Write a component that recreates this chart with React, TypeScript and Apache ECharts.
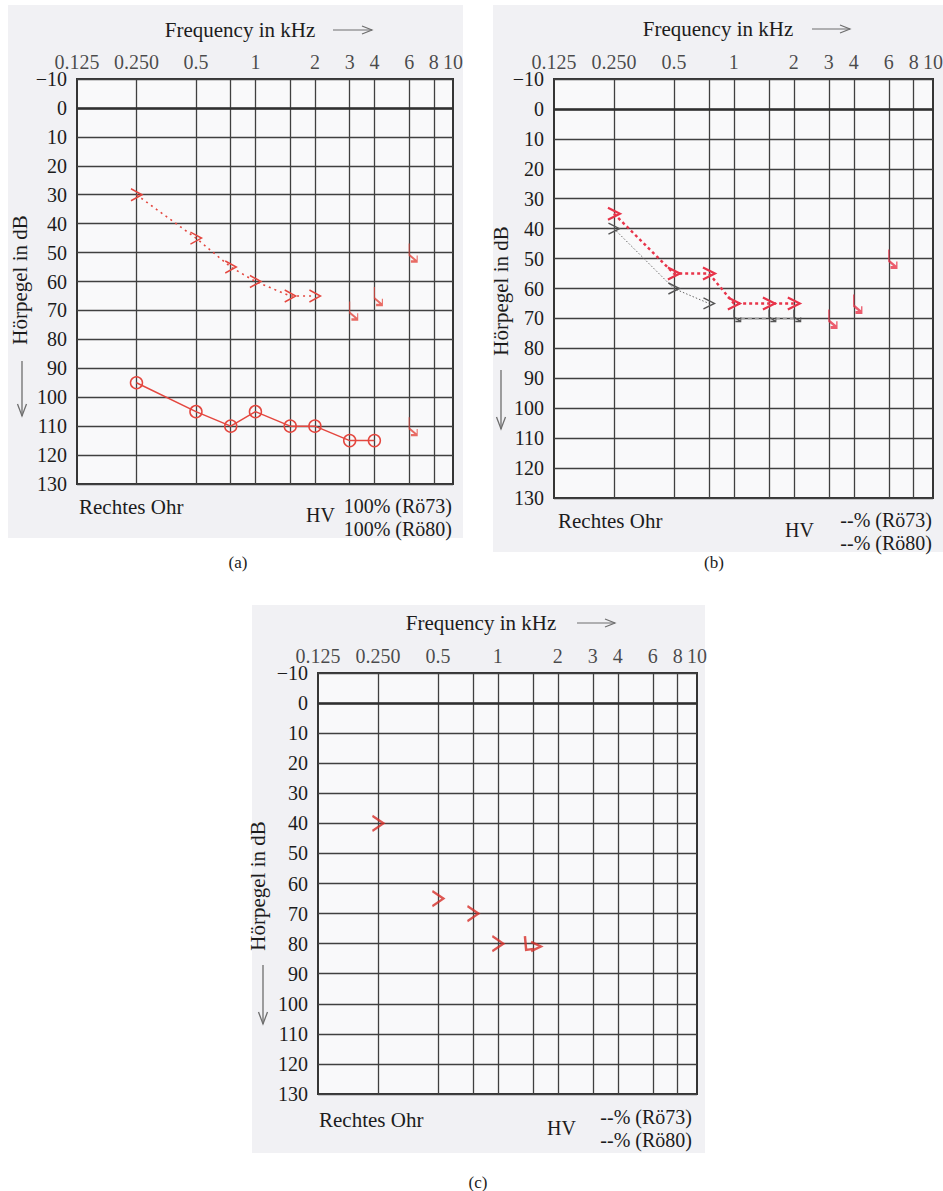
import React, { useEffect, useRef } from 'react';
import * as echarts from 'echarts';

// ---------- axis data ----------
const tickFreqs = [0.125, 0.25, 0.5, 1, 2, 3, 4, 6, 8, 10];
const tickLabels = ['0.125', '0.250', '0.5', '1', '2', '3', '4', '6', '8', '10'];
const gridFreqs = [0.25, 0.5, 0.75, 1, 1.5, 2, 3, 4, 6, 8];

// ---------- panel (a) ----------
const aAirFreq = [0.25, 0.5, 0.75, 1, 1.5, 2, 3, 4];
const aAirDb = [95, 105, 110, 105, 110, 110, 115, 115];
const aBoneFreq = [0.25, 0.5, 0.75, 1, 1.5, 2];
const aBoneDb = [30, 45, 55, 60, 65, 65];
const aBoneNrFreq = [3, 4, 6];
const aBoneNrDb = [70, 65, 50];
const aAirNrFreq = [6];
const aAirNrDb = [110];

// ---------- panel (b) ----------
const bRedFreq = [0.25, 0.5, 0.75, 1, 1.5, 2];
const bRedDb = [35, 55, 55, 65, 65, 65];
const bRedNrFreq = [3, 4, 6];
const bRedNrDb = [70, 65, 50];
const bGreyFreq = [0.25, 0.5, 0.75];
const bGreyDb = [40, 60, 65];
const bGreyNrFreq = [1, 1.5, 2];
const bGreyNrDb = [70, 70, 70];

// ---------- panel (c) ----------
const cBoneFreq = [0.25, 0.5, 0.75, 1];
const cBoneDb = [40, 65, 70, 80];
const cBoneNrFreq = [1.5];
const cBoneNrDb = [80];

// ---------- texts ----------
const titleText = 'Frequency in kHz';
const yNameText = 'Hörpegel in dB';
const earText = 'Rechtes Ohr';
const hvText = 'HV';
const pctA = ['100% (Rö73)', '100% (Rö80)'];
const pctB = ['--% (Rö73)', '--% (Rö80)'];
const pctC = ['--% (Rö73)', '--% (Rö80)'];
const captions = ['(a)', '(b)', '(c)'];

const FONT = 'Liberation Serif, DejaVu Serif, serif';
const TXT = '#1c1c1c';
const GRID = '#404040';
const RED_A = '#e4473f';
const RED_B = '#e8344a';
const RED_C = '#d62e28';
const GREY_B = '#555555';
const NONE = 'rgba(0,0,0,0)';

const CHEVRON = 'path://M0,0 L10,6 L0,12';
const NR = 'path://M1,0 L1,10 L8,16 M8,10.5 L8,16 L2.5,16';
const NR_C = 'path://M0,0 L1,12 L7,11 M5,5 L13,9 L5,13';

const pts = (f: number[], d: number[]) => f.map((x, i) => [x, d[i]]);

const LAYOUT = [
  {
    grid: { left: 77, top: 79, width: 376, height: 405 },
    bg: [8, 5, 455, 533], title: [240, 30], arrow: [333, 372, 30],
    yname: [20, 280], yarrow: [22, 361, 416], ear: [79, 507], hv: [306, 515],
    p1: [452, 506], p2: [452, 529], cap: [238, 562], pct: pctA,
  },
  {
    grid: { left: 554, top: 79, width: 379, height: 419 },
    bg: [493, 5, 450, 547], title: [718, 29], arrow: [812, 850, 29],
    yname: [501, 291], yarrow: [501, 370, 429], ear: [558, 521], hv: [785, 530],
    p1: [932, 520], p2: [932, 543], cap: [714, 562], pct: pctB,
  },
  {
    grid: { left: 318, top: 673, width: 379, height: 421 },
    bg: [252, 605, 453, 548], title: [481, 623], arrow: [577, 615, 623],
    yname: [258, 886], yarrow: [263, 965, 1024], ear: [319, 1120], hv: [547, 1128],
    p1: [692, 1117], p2: [692, 1140], cap: [478, 1182], pct: pctC,
  },
];

function txt(x: number, y: number, text: string, size: number, align: string, extra: any = {}) {
  return {
    type: 'text', x, y, z: 20, silent: true, ...extra,
    style: { text, fontSize: size, fontFamily: FONT, fill: TXT, align, verticalAlign: 'middle' },
  };
}

function buildOption() {
  const graphics: any[] = [];
  LAYOUT.forEach((L, i) => {
    graphics.push({
      type: 'rect', z: -10, silent: true,
      shape: { x: L.bg[0], y: L.bg[1], width: L.bg[2], height: L.bg[3] },
      style: { fill: '#f1f1f4' },
    });
    graphics.push(txt(L.title[0], L.title[1], titleText, 21, 'center'));
    const [ax0, ax1, ay] = L.arrow;
    graphics.push({ type: 'polyline', z: 20, silent: true, shape: { points: [[ax0, ay], [ax1, ay]] }, style: { stroke: '#6e6e6e', lineWidth: 1.2, fill: 'none' } });
    graphics.push({ type: 'polyline', z: 20, silent: true, shape: { points: [[ax1 - 10, ay - 4], [ax1, ay], [ax1 - 10, ay + 4]] }, style: { stroke: '#6e6e6e', lineWidth: 1.2, fill: 'none' } });
    graphics.push(txt(L.yname[0], L.yname[1], yNameText, 21, 'center', { rotation: Math.PI / 2 }));
    const [vx, vy0, vy1] = L.yarrow;
    graphics.push({ type: 'polyline', z: 20, silent: true, shape: { points: [[vx, vy0], [vx, vy1]] }, style: { stroke: '#6e6e6e', lineWidth: 1.3, fill: 'none' } });
    graphics.push({ type: 'polyline', z: 20, silent: true, shape: { points: [[vx - 4.5, vy1 - 12], [vx, vy1], [vx + 4.5, vy1 - 12]] }, style: { stroke: '#6e6e6e', lineWidth: 1.3, fill: 'none' } });
    graphics.push(txt(L.ear[0], L.ear[1], earText, 21, 'left'));
    graphics.push(txt(L.hv[0], L.hv[1], hvText, 20, 'left'));
    graphics.push(txt(L.p1[0], L.p1[1], L.pct[0], 20, 'right'));
    graphics.push(txt(L.p2[0], L.p2[1], L.pct[1], 20, 'right'));
    graphics.push(txt(L.cap[0], L.cap[1], captions[i], 17, 'center'));
  });

  const grids = LAYOUT.map((L) => ({
    ...L.grid, show: true, borderColor: '#353535', borderWidth: 2, backgroundColor: '#f9f9fa',
  }));
  const xAxes = LAYOUT.map((_, i) => ({
    type: 'log', logBase: 2, gridIndex: i, min: 0.125, max: 10,
    axisLine: { show: false }, axisTick: { show: false }, axisLabel: { show: false },
    splitLine: { show: false }, minorTick: { show: false }, minorSplitLine: { show: false },
  }));
  const yAxes = LAYOUT.map((_, i) => ({
    type: 'value', gridIndex: i, inverse: true, min: -10, max: 130, interval: 10,
    axisLine: { show: false }, axisTick: { show: false },
    splitLine: { show: true, lineStyle: { color: GRID, width: 1.3 } },
    axisLabel: {
      fontSize: 20, fontFamily: FONT, color: TXT, margin: 10,
      formatter: (v: number) => (v < 0 ? '\u2212' + -v : String(v)),
    },
  }));

  const series: any[] = [];
  LAYOUT.forEach((_, i) => {
    series.push({
      type: 'scatter', xAxisIndex: i, yAxisIndex: i, silent: true, clip: false, z: 2,
      symbolSize: 0,
      data: tickFreqs.map((f) => [f, -10]),
      label: {
        show: true, position: 'inside', offset: [0, -17],
        formatter: (p: any) => tickLabels[p.dataIndex],
        fontSize: 20, fontFamily: FONT, color: TXT,
      },
      markLine: {
        silent: true, symbol: ['none', 'none'], label: { show: false }, animation: false,
        lineStyle: { color: GRID, width: 1.3, type: 'solid' },
        data: [
          ...gridFreqs.map((f) => ({ xAxis: f })),
          { yAxis: 0, lineStyle: { color: '#303030', width: 2.6, type: 'solid' } },
        ],
      },
    });
  });

  // panel (a)
  series.push({
    type: 'line', xAxisIndex: 0, yAxisIndex: 0, z: 5, clip: false,
    data: pts(aAirFreq, aAirDb), symbol: 'circle', symbolSize: 12,
    itemStyle: { color: NONE, borderColor: RED_A, borderWidth: 1.5 },
    lineStyle: { color: RED_A, width: 1.5 },
  });
  series.push({
    type: 'line', xAxisIndex: 0, yAxisIndex: 0, z: 5, clip: false,
    data: pts(aBoneFreq, aBoneDb), symbol: CHEVRON, symbolSize: [11, 12],
    itemStyle: { color: NONE, borderColor: RED_A, borderWidth: 1.5 },
    lineStyle: { color: RED_A, width: 1.6, type: [2, 4] },
  });
  series.push({
    type: 'scatter', xAxisIndex: 0, yAxisIndex: 0, z: 5, clip: false,
    data: [...pts(aBoneNrFreq, aBoneNrDb), ...pts(aAirNrFreq, aAirNrDb)],
    symbol: NR, symbolSize: [8, 18], symbolOffset: [4, 0],
    itemStyle: { color: NONE, borderColor: RED_A, borderWidth: 1.6 },
  });

  // panel (b)
  series.push({
    type: 'line', xAxisIndex: 1, yAxisIndex: 1, z: 5, clip: false,
    data: pts(bGreyFreq, bGreyDb), symbol: CHEVRON, symbolSize: [11, 11],
    itemStyle: { color: NONE, borderColor: GREY_B, borderWidth: 1.4 },
    lineStyle: { color: '#666', width: 1, type: [1.5, 2] },
  });
  series.push({
    type: 'line', xAxisIndex: 1, yAxisIndex: 1, z: 4, clip: false,
    data: pts(bGreyNrFreq, bGreyNrDb), symbol: NR, symbolSize: [7, 12], symbolOffset: [3.5, -3],
    itemStyle: { color: NONE, borderColor: GREY_B, borderWidth: 1.2 },
    lineStyle: { color: '#9a9a9a', width: 1.4, type: [4, 3] },
  });
  series.push({
    type: 'line', xAxisIndex: 1, yAxisIndex: 1, z: 6, clip: false,
    data: pts(bRedFreq, bRedDb), symbol: CHEVRON, symbolSize: [12, 12],
    itemStyle: { color: NONE, borderColor: RED_B, borderWidth: 2.2 },
    lineStyle: { color: RED_B, width: 2.4, type: [3, 3] },
  });
  series.push({
    type: 'scatter', xAxisIndex: 1, yAxisIndex: 1, z: 6, clip: false,
    data: pts(bRedNrFreq, bRedNrDb),
    symbol: NR, symbolSize: [8, 18], symbolOffset: [4, 0],
    itemStyle: { color: NONE, borderColor: RED_B, borderWidth: 2 },
  });

  // panel (c)
  series.push({
    type: 'scatter', xAxisIndex: 2, yAxisIndex: 2, z: 6, clip: false,
    data: pts(cBoneFreq, cBoneDb), symbol: CHEVRON, symbolSize: [11, 15],
    itemStyle: { color: NONE, borderColor: RED_C, borderWidth: 2.2 },
  });
  series.push({
    type: 'scatter', xAxisIndex: 2, yAxisIndex: 2, z: 6, clip: false,
    data: pts(cBoneNrFreq, cBoneNrDb), symbol: NR_C, symbolSize: [16, 15],
    itemStyle: { color: NONE, borderColor: RED_C, borderWidth: 2.4 },
  });

  return {
    animation: false,
    backgroundColor: '#ffffff',
    textStyle: { fontFamily: FONT },
    grid: grids,
    xAxis: xAxes,
    yAxis: yAxes,
    series,
    graphic: { elements: graphics },
  };
}

export default function App() {
  const ref = useRef<HTMLDivElement>(null);
  useEffect(() => {
    if (!ref.current) return;
    const chart = echarts.init(ref.current, null, { renderer: 'svg' });
    chart.setOption(buildOption() as any);
    return () => chart.dispose();
  }, []);
  return (
    <div
      ref={ref}
      style={{ position: 'absolute', left: 0, top: 0, width: 943, height: 1191 }}
    />
  );
}
